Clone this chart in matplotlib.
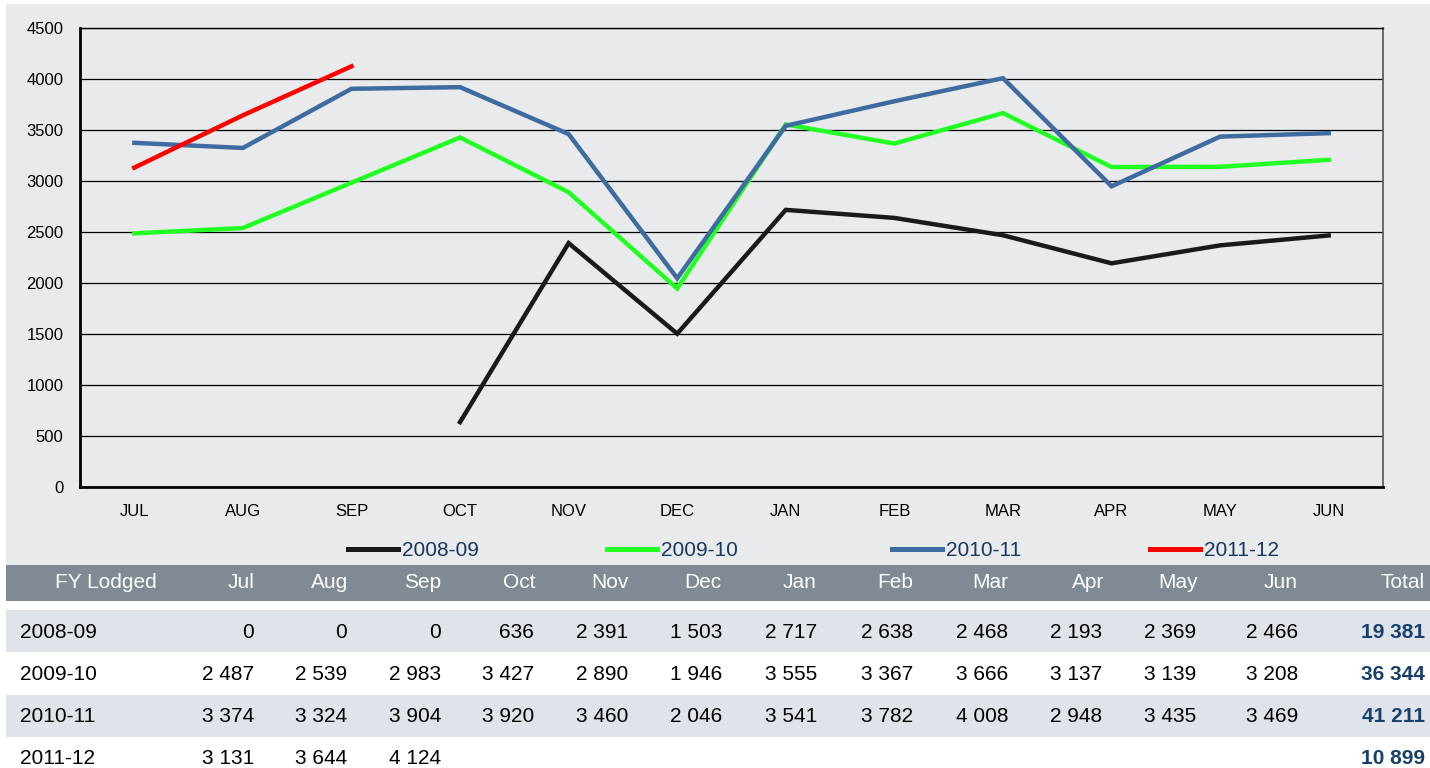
import numpy as np
import matplotlib
matplotlib.use("Agg")
import matplotlib.pyplot as plt
from matplotlib.patches import Rectangle
from matplotlib.lines import Line2D

plt.rcParams['font.family'] = ['Liberation Sans', 'DejaVu Sans']

months_axis = ["JUL", "AUG", "SEP", "OCT", "NOV", "DEC", "JAN", "FEB", "MAR", "APR", "MAY", "JUN"]
months_table = ["Jul", "Aug", "Sep", "Oct", "Nov", "Dec", "Jan", "Feb", "Mar", "Apr", "May", "Jun"]
series_names = ["2008-09", "2009-10", "2010-11", "2011-12"]
v_2008_09 = [0, 0, 0, 636, 2391, 1503, 2717, 2638, 2468, 2193, 2369, 2466]
v_2009_10 = [2487, 2539, 2983, 3427, 2890, 1946, 3555, 3367, 3666, 3137, 3139, 3208]
v_2010_11 = [3374, 3324, 3904, 3920, 3460, 2046, 3541, 3782, 4008, 2948, 3435, 3469]
v_2011_12 = [3131, 3644, 4124]
totals = [19381, 36344, 41211, 10899]
colors = ["#1a1a1a", "#22ff22", "#3f6ca0", "#ff0000"]

W, H = 1430, 768
fig = plt.figure(figsize=(W / 100, H / 100), dpi=100)
fig.patch.set_facecolor("white")

def fx(x):
    return x / W

def fy(y):
    return 1 - y / H

FS = 15

# grey panel behind chart
fig.add_artist(Rectangle((fx(6), fy(565)), fx(W - 6), (565 - 4) / H,
                         transform=fig.transFigure, facecolor="#e9eaec", edgecolor="none", zorder=0))

ax = fig.add_axes([fx(80), fy(487), fx(1383 - 80), (487 - 28) / H])
ax.set_facecolor("#e9eaec")
x = np.arange(12)
all_series = [v_2008_09, v_2009_10, v_2010_11, v_2011_12]
for name, vals, c in zip(series_names, all_series, colors):
    arr = np.array(vals, dtype=float)
    arr[arr == 0] = np.nan
    ax.plot(x[:len(arr)], arr, color=c, lw=3.2, solid_joinstyle="miter", zorder=3)

ax.set_xlim(-0.5, 11.5)
ax.set_ylim(0, 4500)
ax.set_yticks(np.arange(0, 4501, 500))
ax.set_xticks(x)
ax.set_xticklabels(months_axis)
ax.yaxis.grid(True, color="black", lw=0.9)
ax.set_axisbelow(True)
ax.tick_params(axis="both", length=0, labelsize=12, colors="black")
ax.tick_params(axis="x", pad=12)
ax.tick_params(axis="y", pad=12)
ax.spines["left"].set_linewidth(2)
ax.spines["bottom"].set_linewidth(2)
ax.spines["top"].set_linewidth(1)
ax.spines["right"].set_linewidth(1.2)
ax.spines["right"].set_color("#555555")

# legend
leg_x = [348, 607, 892, 1150]
for lx, name, c in zip(leg_x, series_names, colors):
    fig.add_artist(Line2D([fx(lx), fx(lx + 50)], [fy(549), fy(549)], transform=fig.transFigure,
                          color=c, lw=3.6))
    fig.text(fx(lx + 54), fy(551), name, fontsize=FS, color="#17375e", va="center", ha="left")

# table header
fig.add_artist(Rectangle((fx(6), fy(601)), fx(W - 6), 36 / H, transform=fig.transFigure,
                         facecolor="#7f8a94", edgecolor="none"))
col_right = [254, 348, 441, 536, 629, 721, 816, 913, 1008, 1104, 1198, 1298]
hdr_y = 583
fig.text(fx(106), fy(hdr_y), "FY Lodged", fontsize=FS, color="white", ha="center", va="center")
for xr, m in zip(col_right, months_table):
    fig.text(fx(xr), fy(hdr_y), m, fontsize=FS, color="white", ha="right", va="center")
fig.text(fx(1425), fy(hdr_y), "Total", fontsize=FS, color="white", ha="right", va="center")

def fmt(v):
    return "{:,}".format(v).replace(",", " ")

row_tops = [610, 652, 695, 737]
row_h = [42, 43, 42, 42]
num_right = [254, 347, 441, 534, 628, 722, 817, 913, 1008, 1102, 1196, 1298]
for i, (name, vals, tot) in enumerate(zip(series_names, all_series, totals)):
    top = row_tops[i]
    if i % 2 == 0:
        fig.add_artist(Rectangle((fx(6), fy(top + row_h[i])), fx(W - 6), row_h[i] / H,
                                 transform=fig.transFigure, facecolor="#dfe4ea", edgecolor="none"))
    cy = top + 22
    fig.text(fx(20), fy(cy), name, fontsize=FS, color="black", ha="left", va="center")
    for xr, v in zip(num_right, vals):
        fig.text(fx(xr), fy(cy), fmt(v), fontsize=FS, color="black", ha="right", va="center")
    fig.text(fx(1425), fy(cy), fmt(tot), fontsize=FS, color="#17406d", ha="right",
             va="center", fontweight="bold")

fig.savefig("out.png", dpi=100)
